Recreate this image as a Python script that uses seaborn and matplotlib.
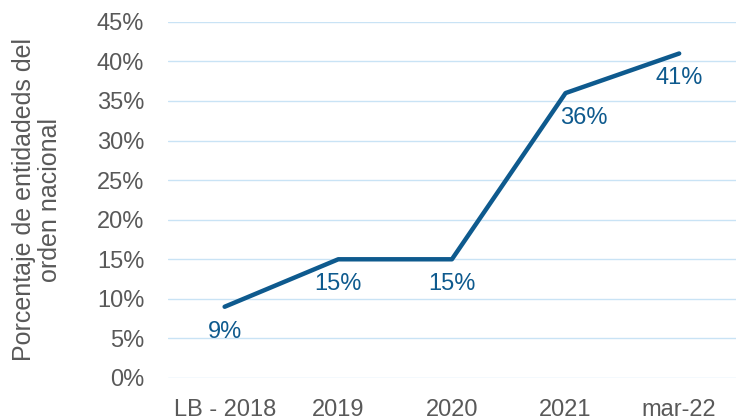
import pandas as pd
import matplotlib.pyplot as plt
import seaborn as sns

categorias = ['LB - 2018', '2019', '2020', '2021', 'mar-22']
porcentajes = [9, 15, 15, 36, 41]

df = pd.DataFrame({'Periodo': categorias, 'Porcentaje': porcentajes})
df['pos'] = range(len(df))

sns.set_style('white')
plt.rcParams['font.family'] = ['Liberation Sans', 'DejaVu Sans']

color_linea = '#0E5A8E'
gris = '#595959'

fig, ax = plt.subplots(figsize=(7.36, 4.2), dpi=100)
fig.subplots_adjust(left=0.228, right=1.0, top=0.948, bottom=0.1)

sns.lineplot(x='pos', y='Porcentaje', data=df, ax=ax, color=color_linea, linewidth=3.2)

# Etiquetas de datos debajo de cada punto (la de 2021 va algo corrida a la derecha)
desplaz_x = {3: 13}
for _, fila in df.iterrows():
    ax.annotate(f"{fila['Porcentaje']}%", (fila['pos'], fila['Porcentaje']),
                xytext=(desplaz_x.get(fila['pos'], 0), -10), textcoords='offset points',
                ha='center', va='top', fontsize=17, color=color_linea)

ax.set_xlim(-0.5, len(categorias) - 0.5)
ax.set_ylim(0, 45)
ax.set_xticks(df['pos'])
ax.set_xticklabels(categorias)
ax.set_yticks(range(0, 46, 5))
ax.set_yticklabels([f'{v}%' for v in range(0, 46, 5)])
ax.tick_params(axis='both', labelsize=17, colors=gris, length=0)
ax.tick_params(axis='y', pad=17)
ax.tick_params(axis='x', pad=15)

ax.set_xlabel('')
ax.set_ylabel('Porcentaje de entidadeds del\norden nacional', fontsize=18, color=gris,
              labelpad=25, linespacing=1.1)

ax.grid(axis='y', color='#C9E3F5', linewidth=1)
ax.grid(axis='x', visible=False)
ax.set_axisbelow(True)
sns.despine(ax=ax, left=True, bottom=True)

plt.savefig('out.png', dpi=100)
